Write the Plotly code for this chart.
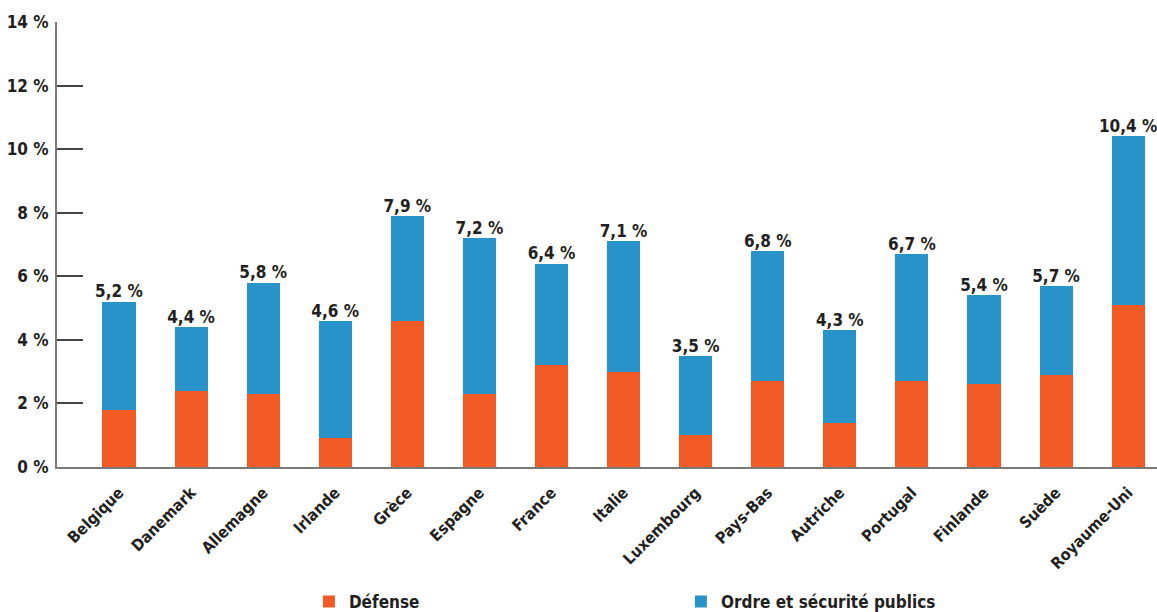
import plotly.graph_objects as go

# Dépenses publiques par fonction, en % du total
pays = ["Belgique", "Danemark", "Allemagne", "Irlande", "Grèce", "Espagne", "France",
        "Italie", "Luxembourg", "Pays-Bas", "Autriche", "Portugal", "Finlande", "Suède",
        "Royaume-Uni"]
defense = [1.8, 2.4, 2.3, 0.9, 4.6, 2.3, 3.2, 3.0, 1.0, 2.7, 1.4, 2.7, 2.6, 2.9, 5.1]
total = [5.2, 4.4, 5.8, 4.6, 7.9, 7.2, 6.4, 7.1, 3.5, 6.8, 4.3, 6.7, 5.4, 5.7, 10.4]
ordre = [round(t - d, 2) for t, d in zip(total, defense)]

y_ticks = [0, 2, 4, 6, 8, 10, 12, 14]
y_tick_labels = [f"{v} %" for v in y_ticks]
total_labels = [f"{v:.1f} %".replace(".", ",") for v in total]

FONT = "DejaVu Sans Condensed, Liberation Sans Narrow, Arial Narrow, sans-serif"
TXT = "#231f20"
ORANGE = "#f15a24"
BLUE = "#2893c9"

fig = go.Figure()
fig.add_trace(go.Bar(x=pays, y=defense, name="<b>Défense</b>", marker_color=ORANGE,
                     marker_line_width=0, width=0.46))
fig.add_trace(go.Bar(x=pays, y=ordre, name="<b>Ordre et sécurité publics</b>",
                     marker_color=BLUE, marker_line_width=0, width=0.46))
fig.add_trace(go.Scatter(x=pays, y=total, mode="text", text=total_labels,
                         textposition="top center", showlegend=False,
                         textfont=dict(family=FONT, size=17, color=TXT, weight="bold"),
                         hoverinfo="skip"))

fig.update_layout(
    barmode="stack",
    width=1157, height=612,
    margin=dict(l=57, r=0, t=22, b=145, autoexpand=False),
    plot_bgcolor="white", paper_bgcolor="white",
    font=dict(family=FONT, color=TXT),
    legend=dict(orientation="h", x=0.229, xanchor="left", y=-0.303, yanchor="middle",
                entrywidth=327, entrywidthmode="pixels",
                font=dict(family=FONT, size=17, color=TXT), traceorder="normal"),
    xaxis=dict(range=[-0.86, 14.4], showline=True, linecolor="#7a7a7a", linewidth=2,
               ticks="", tickangle=-45, automargin=False, ticklabelstandoff=8,
               tickfont=dict(family=FONT, size=16, color=TXT, weight="bold")),
    yaxis=dict(range=[0, 14], tickvals=y_ticks, ticktext=y_tick_labels, automargin=False,
               showgrid=False, zeroline=False, showline=True, linecolor="#7a7a7a",
               linewidth=2, ticks="inside", ticklen=26, tickwidth=1.5, tickcolor="#444",
               tickfont=dict(family=FONT, size=17, color=TXT, weight="bold"),
               ticklabelstandoff=3),
)

fig.write_html("out.html")
